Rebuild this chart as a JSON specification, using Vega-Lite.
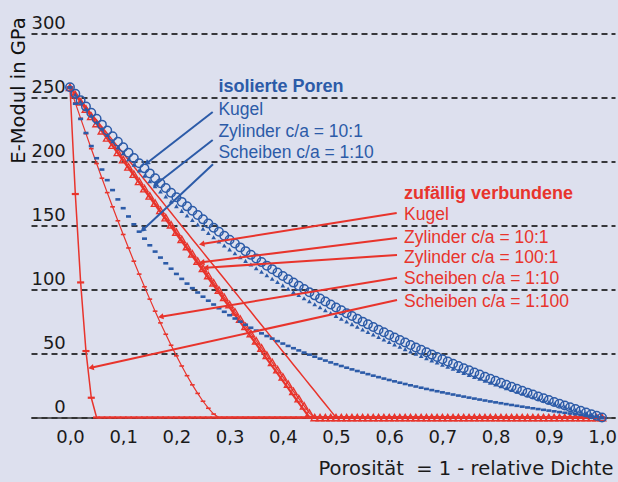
{
"$schema":"https://vega.github.io/schema/vega-lite/v6.json",
"width":584,"height":384,
"autosize":{"type":"none"},
"padding":{"left":31,"top":33.5,"right":3,"bottom":64.5},
"background":"#dde0ee",
"config":{"view":{"stroke":null}},
"datasets":{
"curves":[
{"p":0,"bK":258,"bZ":258,"bS":258,"rK":258,"rZ10":258,"rZ100":258,"rS10":258,"rS100":258},
{"p":0.01,"bK":252.89,"bZ":252.27,"bS":245.12,"rK":252.84,"rZ10":252.34,"rZ100":252.27,"rS10":245.77,"rS100":174.59},
{"p":0.02,"bK":247.88,"bZ":246.67,"bS":233.25,"rK":247.68,"rZ10":246.68,"rZ100":246.53,"rS10":233.70,"rS100":105.52},
{"p":0.03,"bK":242.97,"bZ":241.21,"bS":222.26,"rK":242.52,"rZ10":241.03,"rZ100":240.8,"rS10":221.77,"rS100":51.91},
{"p":0.04,"bK":238.15,"bZ":235.89,"bS":212.06,"rK":237.36,"rZ10":235.37,"rZ100":235.07,"rS10":210.00,"rS100":15.43},
{"p":0.05,"bK":233.43,"bZ":230.68,"bS":202.56,"rK":232.2,"rZ10":229.71,"rZ100":229.33,"rS10":198.40,"rS100":0},
{"p":0.06,"bK":228.79,"bZ":225.60,"bS":193.71,"rK":227.04,"rZ10":224.05,"rZ100":223.6,"rS10":186.96,"rS100":0},
{"p":0.07,"bK":224.24,"bZ":220.63,"bS":185.43,"rK":221.88,"rZ10":218.39,"rZ100":217.87,"rS10":175.70,"rS100":0},
{"p":0.08,"bK":219.78,"bZ":215.78,"bS":177.66,"rK":216.72,"rZ10":212.74,"rZ100":212.13,"rS10":164.60,"rS100":0},
{"p":0.09,"bK":215.39,"bZ":211.04,"bS":170.38,"rK":211.56,"rZ10":207.08,"rZ100":206.4,"rS10":153.70,"rS100":0},
{"p":0.10,"bK":211.09,"bZ":206.40,"bS":163.52,"rK":206.4,"rZ10":201.42,"rZ100":200.67,"rS10":142.98,"rS100":0},
{"p":0.11,"bK":206.86,"bZ":201.86,"bS":157.06,"rK":201.24,"rZ10":195.76,"rZ100":194.93,"rS10":132.45,"rS100":0},
{"p":0.12,"bK":202.71,"bZ":197.43,"bS":150.96,"rK":196.08,"rZ10":190.11,"rZ100":189.2,"rS10":122.13,"rS100":0},
{"p":0.13,"bK":198.64,"bZ":193.08,"bS":145.19,"rK":190.92,"rZ10":184.45,"rZ100":183.47,"rS10":112.02,"rS100":0},
{"p":0.14,"bK":194.63,"bZ":188.83,"bS":139.72,"rK":185.76,"rZ10":178.79,"rZ100":177.73,"rS10":102.14,"rS100":0},
{"p":0.15,"bK":190.70,"bZ":184.67,"bS":134.54,"rK":180.6,"rZ10":173.13,"rZ100":172,"rS10":92.48,"rS100":0},
{"p":0.16,"bK":186.83,"bZ":180.60,"bS":129.62,"rK":175.44,"rZ10":167.47,"rZ100":166.27,"rS10":83.07,"rS100":0},
{"p":0.17,"bK":183.03,"bZ":176.61,"bS":124.94,"rK":170.28,"rZ10":161.82,"rZ100":160.53,"rS10":73.92,"rS100":0},
{"p":0.18,"bK":179.29,"bZ":172.70,"bS":120.48,"rK":165.12,"rZ10":156.16,"rZ100":154.8,"rS10":65.04,"rS100":0},
{"p":0.19,"bK":175.61,"bZ":168.87,"bS":116.23,"rK":159.96,"rZ10":150.50,"rZ100":149.07,"rS10":56.45,"rS100":0},
{"p":0.20,"bK":172.00,"bZ":165.12,"bS":112.17,"rK":154.8,"rZ10":144.84,"rZ100":143.33,"rS10":48.17,"rS100":0},
{"p":0.21,"bK":168.45,"bZ":161.44,"bS":108.30,"rK":149.64,"rZ10":139.18,"rZ100":137.6,"rS10":40.24,"rS100":0},
{"p":0.22,"bK":164.95,"bZ":157.84,"bS":104.59,"rK":144.48,"rZ10":133.53,"rZ100":131.87,"rS10":32.67,"rS100":0},
{"p":0.23,"bK":161.51,"bZ":154.30,"bS":101.05,"rK":139.32,"rZ10":127.87,"rZ100":126.13,"rS10":25.52,"rS100":0},
{"p":0.24,"bK":158.13,"bZ":150.83,"bS":97.65,"rK":134.16,"rZ10":122.21,"rZ100":120.4,"rS10":18.84,"rS100":0},
{"p":0.25,"bK":154.80,"bZ":147.43,"bS":94.39,"rK":129,"rZ10":116.55,"rZ100":114.67,"rS10":12.70,"rS100":0},
{"p":0.26,"bK":151.52,"bZ":144.09,"bS":91.26,"rK":123.84,"rZ10":110.89,"rZ100":108.93,"rS10":7.24,"rS100":0},
{"p":0.27,"bK":148.30,"bZ":140.81,"bS":88.26,"rK":118.68,"rZ10":105.24,"rZ100":103.2,"rS10":2.68,"rS100":0},
{"p":0.28,"bK":145.13,"bZ":137.60,"bS":85.37,"rK":113.52,"rZ10":99.58,"rZ100":97.47,"rS10":0,"rS100":0},
{"p":0.29,"bK":142.00,"bZ":134.44,"bS":82.59,"rK":108.36,"rZ10":93.92,"rZ100":91.73,"rS10":0,"rS100":0},
{"p":0.30,"bK":138.92,"bZ":131.35,"bS":79.91,"rK":103.2,"rZ10":88.26,"rZ100":86,"rS10":0,"rS100":0},
{"p":0.31,"bK":135.89,"bZ":128.30,"bS":77.33,"rK":98.04,"rZ10":82.61,"rZ100":80.27,"rS10":0,"rS100":0},
{"p":0.32,"bK":132.91,"bZ":125.31,"bS":74.85,"rK":92.88,"rZ10":76.95,"rZ100":74.53,"rS10":0,"rS100":0},
{"p":0.33,"bK":129.97,"bZ":122.38,"bS":72.45,"rK":87.72,"rZ10":71.29,"rZ100":68.8,"rS10":0,"rS100":0},
{"p":0.34,"bK":127.07,"bZ":119.49,"bS":70.13,"rK":82.56,"rZ10":65.63,"rZ100":63.07,"rS10":0,"rS100":0},
{"p":0.35,"bK":124.22,"bZ":116.66,"bS":67.89,"rK":77.4,"rZ10":59.97,"rZ100":57.33,"rS10":0,"rS100":0},
{"p":0.36,"bK":121.41,"bZ":113.88,"bS":65.73,"rK":72.24,"rZ10":54.32,"rZ100":51.6,"rS10":0,"rS100":0},
{"p":0.37,"bK":118.64,"bZ":111.14,"bS":63.64,"rK":67.08,"rZ10":48.66,"rZ100":45.87,"rS10":0,"rS100":0},
{"p":0.38,"bK":115.91,"bZ":108.45,"bS":61.62,"rK":61.92,"rZ10":43.00,"rZ100":40.13,"rS10":0,"rS100":0},
{"p":0.39,"bK":113.22,"bZ":105.80,"bS":59.66,"rK":56.76,"rZ10":37.34,"rZ100":34.4,"rS10":0,"rS100":0},
{"p":0.40,"bK":110.57,"bZ":103.20,"bS":57.76,"rK":51.6,"rZ10":31.68,"rZ100":28.67,"rS10":0,"rS100":0},
{"p":0.41,"bK":107.96,"bZ":100.64,"bS":55.92,"rK":46.44,"rZ10":26.03,"rZ100":22.93,"rS10":0,"rS100":0},
{"p":0.42,"bK":105.38,"bZ":98.12,"bS":54.14,"rK":41.28,"rZ10":20.37,"rZ100":17.2,"rS10":0,"rS100":0},
{"p":0.43,"bK":102.84,"bZ":95.65,"bS":52.41,"rK":36.12,"rZ10":14.71,"rZ100":11.47,"rS10":0,"rS100":0},
{"p":0.44,"bK":100.33,"bZ":93.21,"bS":50.73,"rK":30.96,"rZ10":9.05,"rZ100":5.73,"rS10":0,"rS100":0},
{"p":0.45,"bK":97.86,"bZ":90.82,"bS":49.10,"rK":25.8,"rZ10":3.39,"rZ100":0,"rS10":0,"rS100":0},
{"p":0.46,"bK":95.42,"bZ":88.46,"bS":47.52,"rK":20.64,"rZ10":0,"rZ100":0,"rS10":0,"rS100":0},
{"p":0.47,"bK":93.02,"bZ":86.14,"bS":45.98,"rK":15.48,"rZ10":0,"rZ100":0,"rS10":0,"rS100":0},
{"p":0.48,"bK":90.65,"bZ":83.85,"bS":44.48,"rK":10.32,"rZ10":0,"rZ100":0,"rS10":0,"rS100":0},
{"p":0.49,"bK":88.31,"bZ":81.60,"bS":43.03,"rK":5.16,"rZ10":0,"rZ100":0,"rS10":0,"rS100":0},
{"p":0.50,"bK":86.00,"bZ":79.38,"bS":41.61,"rK":0,"rZ10":0,"rZ100":0,"rS10":0,"rS100":0},
{"p":0.51,"bK":83.72,"bZ":77.20,"bS":40.24,"rK":0,"rZ10":0,"rZ100":0,"rS10":0,"rS100":0},
{"p":0.52,"bK":81.47,"bZ":75.05,"bS":38.89,"rK":0,"rZ10":0,"rZ100":0,"rS10":0,"rS100":0},
{"p":0.53,"bK":79.25,"bZ":72.94,"bS":37.59,"rK":0,"rZ10":0,"rZ100":0,"rS10":0,"rS100":0},
{"p":0.54,"bK":77.06,"bZ":70.85,"bS":36.32,"rK":0,"rZ10":0,"rZ100":0,"rS10":0,"rS100":0},
{"p":0.55,"bK":74.90,"bZ":68.80,"bS":35.08,"rK":0,"rZ10":0,"rZ100":0,"rS10":0,"rS100":0},
{"p":0.56,"bK":72.77,"bZ":66.78,"bS":33.87,"rK":0,"rZ10":0,"rZ100":0,"rS10":0,"rS100":0},
{"p":0.57,"bK":70.66,"bZ":64.78,"bS":32.69,"rK":0,"rZ10":0,"rZ100":0,"rS10":0,"rS100":0},
{"p":0.58,"bK":68.58,"bZ":62.82,"bS":31.54,"rK":0,"rZ10":0,"rZ100":0,"rS10":0,"rS100":0},
{"p":0.59,"bK":66.53,"bZ":60.88,"bS":30.41,"rK":0,"rZ10":0,"rZ100":0,"rS10":0,"rS100":0},
{"p":0.60,"bK":64.50,"bZ":58.97,"bS":29.32,"rK":0,"rZ10":0,"rZ100":0,"rS10":0,"rS100":0},
{"p":0.61,"bK":62.50,"bZ":57.09,"bS":28.25,"rK":0,"rZ10":0,"rZ100":0,"rS10":0,"rS100":0},
{"p":0.62,"bK":60.52,"bZ":55.23,"bS":27.20,"rK":0,"rZ10":0,"rZ100":0,"rS10":0,"rS100":0},
{"p":0.63,"bK":58.56,"bZ":53.40,"bS":26.18,"rK":0,"rZ10":0,"rZ100":0,"rS10":0,"rS100":0},
{"p":0.64,"bK":56.63,"bZ":51.60,"bS":25.18,"rK":0,"rZ10":0,"rZ100":0,"rS10":0,"rS100":0},
{"p":0.65,"bK":54.73,"bZ":49.82,"bS":24.21,"rK":0,"rZ10":0,"rZ100":0,"rS10":0,"rS100":0},
{"p":0.66,"bK":52.84,"bZ":48.07,"bS":23.26,"rK":0,"rZ10":0,"rZ100":0,"rS10":0,"rS100":0},
{"p":0.67,"bK":50.98,"bZ":46.33,"bS":22.32,"rK":0,"rZ10":0,"rZ100":0,"rS10":0,"rS100":0},
{"p":0.68,"bK":49.14,"bZ":44.63,"bS":21.41,"rK":0,"rZ10":0,"rZ100":0,"rS10":0,"rS100":0},
{"p":0.69,"bK":47.33,"bZ":42.94,"bS":20.52,"rK":0,"rZ10":0,"rZ100":0,"rS10":0,"rS100":0},
{"p":0.70,"bK":45.53,"bZ":41.28,"bS":19.64,"rK":0,"rZ10":0,"rZ100":0,"rS10":0,"rS100":0},
{"p":0.71,"bK":43.75,"bZ":39.64,"bS":18.79,"rK":0,"rZ10":0,"rZ100":0,"rS10":0,"rS100":0},
{"p":0.72,"bK":42.00,"bZ":38.02,"bS":17.95,"rK":0,"rZ10":0,"rZ100":0,"rS10":0,"rS100":0},
{"p":0.73,"bK":40.27,"bZ":36.42,"bS":17.13,"rK":0,"rZ10":0,"rZ100":0,"rS10":0,"rS100":0},
{"p":0.74,"bK":38.55,"bZ":34.85,"bS":16.33,"rK":0,"rZ10":0,"rZ100":0,"rS10":0,"rS100":0},
{"p":0.75,"bK":36.86,"bZ":33.29,"bS":15.54,"rK":0,"rZ10":0,"rZ100":0,"rS10":0,"rS100":0},
{"p":0.76,"bK":35.18,"bZ":31.75,"bS":14.77,"rK":0,"rZ10":0,"rZ100":0,"rS10":0,"rS100":0},
{"p":0.77,"bK":33.53,"bZ":30.24,"bS":14.02,"rK":0,"rZ10":0,"rZ100":0,"rS10":0,"rS100":0},
{"p":0.78,"bK":31.89,"bZ":28.74,"bS":13.27,"rK":0,"rZ10":0,"rZ100":0,"rS10":0,"rS100":0},
{"p":0.79,"bK":30.27,"bZ":27.26,"bS":12.55,"rK":0,"rZ10":0,"rZ100":0,"rS10":0,"rS100":0},
{"p":0.80,"bK":28.67,"bZ":25.80,"bS":11.83,"rK":0,"rZ10":0,"rZ100":0,"rS10":0,"rS100":0},
{"p":0.81,"bK":27.08,"bZ":24.36,"bS":11.14,"rK":0,"rZ10":0,"rZ100":0,"rS10":0,"rS100":0},
{"p":0.82,"bK":25.52,"bZ":22.93,"bS":10.45,"rK":0,"rZ10":0,"rZ100":0,"rS10":0,"rS100":0},
{"p":0.83,"bK":23.97,"bZ":21.53,"bS":9.78,"rK":0,"rZ10":0,"rZ100":0,"rS10":0,"rS100":0},
{"p":0.84,"bK":22.43,"bZ":20.14,"bS":9.12,"rK":0,"rZ10":0,"rZ100":0,"rS10":0,"rS100":0},
{"p":0.85,"bK":20.92,"bZ":18.76,"bS":8.47,"rK":0,"rZ10":0,"rZ100":0,"rS10":0,"rS100":0},
{"p":0.86,"bK":19.42,"bZ":17.41,"bS":7.83,"rK":0,"rZ10":0,"rZ100":0,"rS10":0,"rS100":0},
{"p":0.87,"bK":17.94,"bZ":16.07,"bS":7.21,"rK":0,"rZ10":0,"rZ100":0,"rS10":0,"rS100":0},
{"p":0.88,"bK":16.47,"bZ":14.74,"bS":6.59,"rK":0,"rZ10":0,"rZ100":0,"rS10":0,"rS100":0},
{"p":0.89,"bK":15.02,"bZ":13.43,"bS":5.99,"rK":0,"rZ10":0,"rZ100":0,"rS10":0,"rS100":0},
{"p":0.90,"bK":13.58,"bZ":12.14,"bS":5.40,"rK":0,"rZ10":0,"rZ100":0,"rS10":0,"rS100":0},
{"p":0.91,"bK":12.16,"bZ":10.86,"bS":4.82,"rK":0,"rZ10":0,"rZ100":0,"rS10":0,"rS100":0},
{"p":0.92,"bK":10.75,"bZ":9.60,"bS":4.24,"rK":0,"rZ10":0,"rZ100":0,"rS10":0,"rS100":0},
{"p":0.93,"bK":9.36,"bZ":8.35,"bS":3.68,"rK":0,"rZ10":0,"rZ100":0,"rS10":0,"rS100":0},
{"p":0.94,"bK":7.98,"bZ":7.12,"bS":3.13,"rK":0,"rZ10":0,"rZ100":0,"rS10":0,"rS100":0},
{"p":0.95,"bK":6.62,"bZ":5.90,"bS":2.59,"rK":0,"rZ10":0,"rZ100":0,"rS10":0,"rS100":0},
{"p":0.96,"bK":5.27,"bZ":4.69,"bS":2.05,"rK":0,"rZ10":0,"rZ100":0,"rS10":0,"rS100":0},
{"p":0.97,"bK":3.93,"bZ":3.50,"bS":1.53,"rK":0,"rZ10":0,"rZ100":0,"rS10":0,"rS100":0},
{"p":0.98,"bK":2.61,"bZ":2.32,"bS":1.01,"rK":0,"rZ10":0,"rZ100":0,"rS10":0,"rS100":0},
{"p":0.99,"bK":1.30,"bZ":1.15,"bS":0.50,"rK":0,"rZ10":0,"rZ100":0,"rS10":0,"rS100":0},
{"p":1.00,"bK":0,"bZ":0,"bS":0,"rK":0,"rZ10":0,"rZ100":0,"rS10":0,"rS100":0}
],
"labels":[
{"p":0.279,"E":254.1,"t":"isolierte Poren","g":"b","k":"h"},
{"p":0.279,"E":236.3,"t":"Kugel","g":"b","k":"i"},
{"p":0.279,"E":219.4,"t":"Zylinder c/a = 10:1","g":"b","k":"i"},
{"p":0.279,"E":202.5,"t":"Scheiben c/a = 1:10","g":"b","k":"i"},
{"p":0.628,"E":170.5,"t":"zufällig verbundene","g":"r","k":"h"},
{"p":0.628,"E":154.3,"t":"Kugel","g":"r","k":"i"},
{"p":0.628,"E":136.1,"t":"Zylinder c/a = 10:1","g":"r","k":"i"},
{"p":0.628,"E":120.5,"t":"Zylinder c/a = 100:1","g":"r","k":"i"},
{"p":0.628,"E":104.1,"t":"Scheiben c/a = 1:10","g":"r","k":"i"},
{"p":0.628,"E":86.6,"t":"Scheiben c/a = 1:100","g":"r","k":"i"}
],
"arrows":[
{"p":0.2682,"E":238.7,"p2":0.1442,"E2":198.6,"g":"b"},
{"p":0.2682,"E":216.8,"p2":0.1598,"E2":181.6,"g":"b"},
{"p":0.2688,"E":197.8,"p2":0.1367,"E2":146.5,"g":"b"},
{"p":0.6141,"E":159.8,"p2":0.2476,"E2":135.5,"g":"r"},
{"p":0.6147,"E":140.2,"p2":0.2476,"E2":121.2,"g":"r"},
{"p":0.6147,"E":127.0,"p2":0.2551,"E2":117.0,"g":"r"},
{"p":0.6147,"E":109.2,"p2":0.1705,"E2":78.75,"g":"r"},
{"p":0.6147,"E":91.8,"p2":0.0395,"E2":38.9,"g":"r"}
]
},
"encoding":{
"x":{"field":"p","type":"quantitative","title":"Porosität\u00a0 = 1 - relative Dichte",
"scale":{"domain":[-0.0733,1.0244],"nice":false,"zero":false},
"axis":{"values":[0,0.1,0.2,0.3,0.4,0.5,0.6,0.7,0.8,0.9,1],"labelExpr":"replace(format(datum.value,'.1f'),'.',',')","grid":false,"ticks":false,"tickSize":0,"domain":true,"domainColor":"#333333","domainWidth":1.6,"labelFont":"DejaVu Sans","labelFontSize":18,"labelColor":"#1a1a1a","labelPadding":25,"labelBaseline":"alphabetic","labelFlush":false,"labelOverlap":false,"titleFont":"DejaVu Sans","titleFontSize":19.5,"titleFontWeight":"normal","titleColor":"#1a1a1a","titleX":582,"titleY":56.5,"titleAlign":"right","titleBaseline":"alphabetic"}},
"y":{"field":"E","type":"quantitative","title":"E-Modul in GPa",
"scale":{"domain":[0,300],"nice":false},
"axis":{"values":[0,50,100,150,200,250,300],"grid":true,"gridDash":[6,4],"gridColor":"#000000","gridWidth":1.4,"gridOpacity":1,"domain":false,"ticks":false,"tickSize":0,"labelPadding":-34.3,"labelOffset":-5.5,"labelBaseline":"alphabetic","labelAlign":"right","labelFont":"DejaVu Sans","labelFontSize":18,"labelColor":"#1a1a1a","labelFlush":false,"labelOverlap":false,"titleFont":"DejaVu Sans","titleFontSize":19.5,"titleFontWeight":"normal","titleColor":"#111111","titleX":-7,"titleY":56.5,"titleAngle":270,"titleAlign":"center","titleBaseline":"alphabetic"}}
},
"layer":[
{"data":{"name":"curves"},"transform":[{"fold":["rK"],"as":["s","E"]}],"mark":{"type":"line","color":"#e8342c","strokeWidth":1.5}},
{"data":{"name":"curves"},"transform":[{"fold":["rZ100"],"as":["s","E"]}],"mark":{"type":"line","color":"#e8342c","strokeWidth":2.2}},
{"data":{"name":"curves"},"transform":[{"fold":["rZ10"],"as":["s","E"]}],"mark":{"type":"line","color":"#e8342c","strokeWidth":1.2}},
{"data":{"name":"curves"},"transform":[{"fold":["rZ10"],"as":["s","E"]}],"mark":{"type":"point","shape":"triangle-up","filled":false,"color":"#e8342c","size":55,"strokeWidth":1.4,"opacity":1}},
{"data":{"name":"curves"},"transform":[{"fold":["rS10"],"as":["s","E"]}],"mark":{"type":"line","color":"#e8342c","strokeWidth":1.2}},
{"data":{"name":"curves"},"transform":[{"fold":["rS10"],"as":["s","E"]}],"mark":{"type":"point","shape":"stroke","filled":false,"color":"#e8342c","size":22,"strokeWidth":1.6,"opacity":1}},
{"data":{"name":"curves"},"transform":[{"fold":["rS100"],"as":["s","E"]}],"mark":{"type":"line","color":"#e8342c","strokeWidth":1.5}},
{"data":{"name":"curves"},"transform":[{"fold":["rS100"],"as":["s","E"]}],"mark":{"type":"point","shape":"stroke","filled":false,"color":"#e8342c","size":50,"strokeWidth":2.2,"opacity":1}},
{"data":{"name":"curves"},"transform":[{"fold":["bS"],"as":["s","E"]}],"mark":{"type":"point","shape":"stroke","filled":false,"color":"#2c5ba8","size":25,"strokeWidth":2.6,"opacity":1}},
{"data":{"name":"curves"},"transform":[{"fold":["bZ"],"as":["s","E"]}],"mark":{"type":"point","shape":"triangle-up","filled":true,"color":"#2c5ba8","size":22,"opacity":1}},
{"data":{"name":"curves"},"transform":[{"fold":["bK"],"as":["s","E"]}],"mark":{"type":"point","shape":"circle","filled":false,"color":"#2c5ba8","size":72,"strokeWidth":1.5,"opacity":1}},
{"data":{"name":"arrows"},"mark":{"type":"rule","strokeWidth":2},
 "encoding":{"x2":{"field":"p2"},"y2":{"field":"E2"},
 "color":{"field":"g","type":"nominal","scale":{"domain":["b","r"],"range":["#2c5ba8","#e8342c"]},"legend":null}}},
{"data":{"name":"arrows"},"transform":[{"calculate":"atan2((datum.p2-datum.p)*532,(datum.E2-datum.E)*1.28)*180/PI","as":"ang"}],
 "mark":{"type":"point","shape":"triangle-up","filled":true,"size":40,"opacity":1},
 "encoding":{"x":{"field":"p2","type":"quantitative"},"y":{"field":"E2","type":"quantitative"},
 "angle":{"field":"ang","type":"quantitative","scale":null},
 "color":{"field":"g","type":"nominal","scale":{"domain":["b","r"],"range":["#2c5ba8","#e8342c"]},"legend":null}}},
{"data":{"name":"labels"},"transform":[{"filter":"datum.k=='h'"}],
 "mark":{"type":"text","align":"left","baseline":"alphabetic","font":"Liberation Sans","fontSize":18,"fontWeight":"bold"},
 "encoding":{"text":{"field":"t"},
 "color":{"field":"g","type":"nominal","scale":{"domain":["b","r"],"range":["#2c5ba8","#e8342c"]},"legend":null}}},
{"data":{"name":"labels"},"transform":[{"filter":"datum.k=='i'"}],
 "mark":{"type":"text","align":"left","baseline":"alphabetic","font":"Liberation Sans","fontSize":17.5},
 "encoding":{"text":{"field":"t"},
 "color":{"field":"g","type":"nominal","scale":{"domain":["b","r"],"range":["#2c5ba8","#e8342c"]},"legend":null}}}
]
}
